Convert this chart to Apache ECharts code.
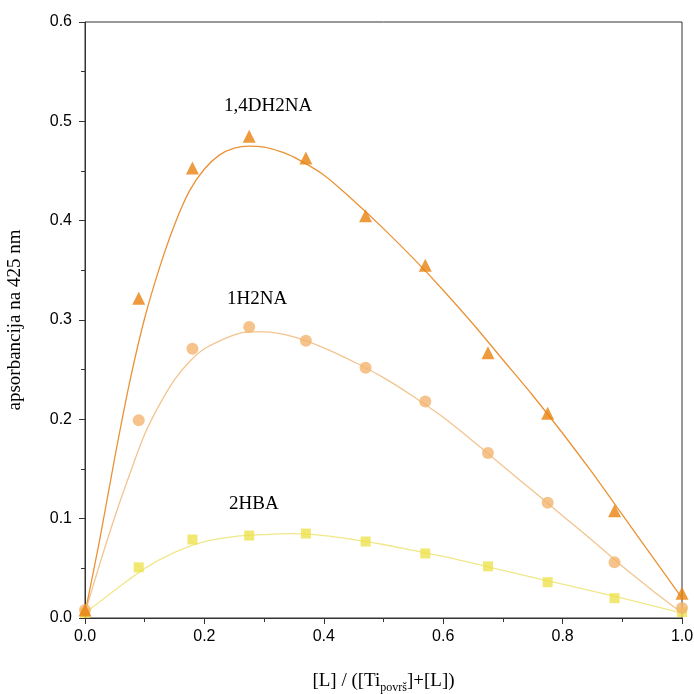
<!DOCTYPE html>
<html><head><meta charset="utf-8">
<script src="https://cdn.jsdelivr.net/npm/echarts@6/dist/echarts.min.js"></script>
<style>html,body{margin:0;padding:0;background:#fff}#c{width:694px;height:694px}</style>
</head><body><div id="c"></div>
<script>
// measured points
const xPts = [0, 0.09, 0.18, 0.275, 0.37, 0.47, 0.57, 0.675, 0.775, 0.887, 1.0];
const dh2na = [0.008, 0.322, 0.453, 0.485, 0.463, 0.405, 0.355, 0.267, 0.206, 0.108, 0.025];
const h2na  = [0.008, 0.199, 0.271, 0.293, 0.279, 0.252, 0.218, 0.166, 0.116, 0.056, 0.010];
const hba   = [0.005, 0.051, 0.079, 0.083, 0.085, 0.077, 0.065, 0.052, 0.036, 0.020, 0.006];
// fitted curves
const xFitA = [0, 0.025, 0.05, 0.075, 0.1, 0.125, 0.15, 0.175, 0.2, 0.225, 0.25, 0.275, 0.3, 0.325, 0.35, 0.4, 0.45, 0.5, 0.55, 0.6, 0.65, 0.7, 0.75, 0.8, 0.85, 0.9, 0.95, 1.0];
const dh2naFit = [0.005, 0.08, 0.162, 0.238, 0.302, 0.353, 0.396, 0.43, 0.452, 0.466, 0.473, 0.475, 0.474, 0.47, 0.464, 0.446, 0.42, 0.392, 0.362, 0.33, 0.296, 0.26, 0.224, 0.186, 0.146, 0.104, 0.062, 0.02];
const xFitB = [0, 0.025, 0.05, 0.075, 0.1, 0.125, 0.15, 0.175, 0.2, 0.25, 0.275, 0.3, 0.35, 0.4, 0.45, 0.5, 0.55, 0.6, 0.65, 0.7, 0.75, 0.8, 0.85, 0.9, 0.95, 1.0];
const h2naFit  = [0.005, 0.055, 0.102, 0.145, 0.185, 0.215, 0.24, 0.258, 0.271, 0.285, 0.288, 0.288, 0.283, 0.272, 0.258, 0.242, 0.223, 0.202, 0.178, 0.153, 0.128, 0.103, 0.078, 0.052, 0.028, 0.005];
const xFitC = [0, 0.05, 0.1, 0.15, 0.2, 0.25, 0.3, 0.35, 0.4, 0.45, 0.5, 0.55, 0.6, 0.7, 0.8, 0.9, 1.0];
const hbaFit   = [0.005, 0.028, 0.05, 0.066, 0.077, 0.082, 0.084, 0.085, 0.083, 0.079, 0.074, 0.068, 0.062, 0.048, 0.034, 0.02, 0.005];
const xTicks = ['0.0','0.2','0.4','0.6','0.8','1.0'];
const yTicks = ['0.0','0.1','0.2','0.3','0.4','0.5','0.6'];

const zip = (xs, ys) => xs.map((x, i) => [x, ys[i]]);
const c1 = '#E8820E', c1l = '#EA9236';
const c2 = '#F2B46E', c2l = '#F2C48E';
const c3 = '#EEE24E', c3l = '#F0E888';

const chart = echarts.init(document.getElementById('c'));
const lineS = (data, color) => ({type:'line', data, smooth:0.3, showSymbol:false, symbol:'none',
  lineStyle:{color, width:1.3}, z:2, silent:true});
const ptS = (data, color, symbol, size) => ({type:'scatter', data, symbol, symbolSize:size,
  itemStyle:{color}, z:3, silent:true});

chart.setOption({
  animation:false,
  grid:{left:85, right:12, top:22, bottom:76, show:true, borderColor:'#333', borderWidth:1,
    containLabel:false, outerBoundsMode:'none'},
  xAxis:{type:'value', min:0, max:1, interval:0.2,
    axisLine:{lineStyle:{color:'#333', width:1}},
    axisTick:{inside:false, length:6, lineStyle:{color:'#333'}},
    minorTick:{show:true, splitNumber:2, length:4, lineStyle:{color:'#333'}},
    splitLine:{show:false},
    axisLabel:{color:'#000', fontFamily:'Liberation Sans, Arial', fontSize:16, margin:11,
      formatter:v => xTicks[Math.round(v/0.2)]},
    name:'{n|[L] / ([Ti}{s|površ}{n|]+[L])}', nameLocation:'middle', nameGap:50,
    nameTextStyle:{rich:{
      n:{fontFamily:'Liberation Serif, Times New Roman', fontSize:19, color:'#000'},
      s:{fontFamily:'Liberation Serif, Times New Roman', fontSize:12, color:'#000', verticalAlign:'bottom', padding:[14,0,0,0]}
    }}
  },
  yAxis:{type:'value', min:0, max:0.6, interval:0.1,
    axisLine:{show:true, lineStyle:{color:'#333', width:1}},
    axisTick:{show:true, inside:false, length:6, lineStyle:{color:'#333'}},
    minorTick:{show:true, splitNumber:2, length:4, lineStyle:{color:'#333'}},
    splitLine:{show:false},
    axisLabel:{color:'#000', fontFamily:'Liberation Sans, Arial', fontSize:16, margin:13,
      formatter:v => yTicks[Math.round(v/0.1)]},
    name:'apsorbancija na 425 nm', nameLocation:'middle', nameGap:60, nameRotate:90,
    nameTextStyle:{fontFamily:'Liberation Serif, Times New Roman', fontSize:19, color:'#000'}
  },
  graphic:[
    {type:'text', left:224, top:97, style:{text:'1,4DH2NA', font:'19px "Liberation Serif", serif', fill:'#000'}},
    {type:'text', left:227, top:290, style:{text:'1H2NA', font:'19px "Liberation Serif", serif', fill:'#000'}},
    {type:'text', left:229, top:495, style:{text:'2HBA', font:'19px "Liberation Serif", serif', fill:'#000'}}
  ],
  series:[
    lineS(zip(xFitC, hbaFit), c3l),
    lineS(zip(xFitB, h2naFit), c2l),
    lineS(zip(xFitA, dh2naFit), c1l),
    ptS(zip(xPts, hba), c3, 'rect', 10),
    ptS(zip(xPts, h2na), c2, 'circle', 12),
    ptS(zip(xPts, dh2na), c1, 'triangle', 13)
  ]
});
</script></body></html>
